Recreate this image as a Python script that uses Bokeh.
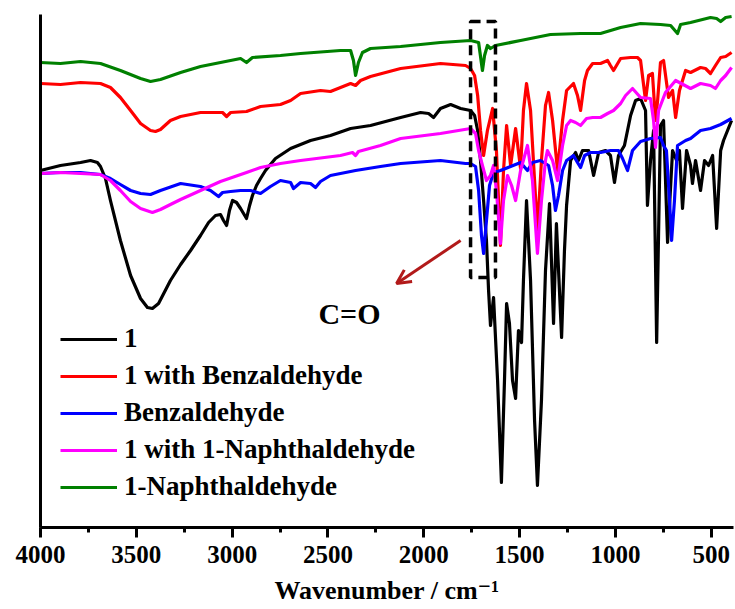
from bokeh.plotting import figure
from bokeh.models import (Range1d, SingleIntervalTicker, FixedTicker, Legend, LegendItem,
                          BoxAnnotation, Arrow, OpenHead, Label)
from bokeh.embed import file_html
from bokeh.resources import INLINE

# ---- data: wavenumber (cm^-1) and transmittance (a.u.) ----
wn_1 = [4000, 3896, 3791, 3739, 3703, 3687, 3661, 3635, 3583, 3530, 3478, 3442, 3416, 3384, 3322, 3269,
        3217, 3165, 3123, 3087, 3061, 3045, 3029, 3014, 2998, 2977, 2956, 2925, 2909, 2894, 2873, 2852,
        2826, 2774, 2695, 2591, 2487, 2382, 2278, 2121, 2017, 1975, 1949, 1913, 1860, 1808, 1756, 1735,
        1719, 1704, 1688, 1673, 1662, 1652, 1636, 1615, 1595, 1579, 1568, 1553, 1537, 1521, 1506, 1490,
        1480, 1464, 1443, 1422, 1407, 1386, 1365, 1344, 1323, 1308, 1281, 1266, 1255, 1234, 1208, 1193,
        1172, 1140, 1114, 1088, 1052, 1026, 1005, 984, 953, 921, 895, 869, 843, 833, 817, 801, 785, 765,
        749, 728, 702, 681, 666, 650, 629, 608, 598, 582, 556, 535, 514, 493, 472, 451, 436, 415, 394]
t_1 = [357, 362, 365, 367, 365, 361, 349, 327, 287, 252, 229, 220, 219, 224, 247, 263,
       277, 292, 305, 312, 313, 307, 302, 317, 327, 325, 319, 309, 322, 332, 342, 349,
       357, 369, 379, 387, 392, 399, 402, 410, 415, 414, 410, 419, 423, 419, 417, 412,
       397, 367, 327, 287, 237, 202, 230, 147, 45, 147, 224, 204, 147, 129, 197, 185,
       247, 327, 247, 107, 42, 127, 257, 324, 204, 304, 190, 277, 322, 367, 375, 367,
       377, 377, 352, 375, 377, 372, 345, 372, 382, 412, 427, 429, 417, 322, 367, 397, 185, 402,
       407, 285, 377, 367, 377, 319, 377, 362, 344, 367, 337, 367, 362, 372, 299, 377, 387, 397, 407]

wn_1b = [4000, 3896, 3791, 3687, 3635, 3583, 3530, 3478, 3426, 3400, 3374, 3322, 3269, 3165, 3050, 3029,
         3008, 2925, 2852, 2748, 2695, 2643, 2539, 2487, 2382, 2356, 2330, 2278, 2121, 1913, 1782, 1756,
         1735, 1719, 1704, 1688, 1668, 1641, 1621, 1600, 1584, 1568, 1547, 1521, 1495, 1480, 1464, 1443,
         1422, 1407, 1386, 1365, 1349, 1328, 1302, 1276, 1255, 1219, 1198, 1182, 1161, 1146, 1119, 1078,
         1041, 1026, 1010, 973, 921, 885, 869, 843, 827, 807, 791, 780, 765, 749, 723, 702, 686, 666,
         634, 608, 556, 530, 504, 478, 451, 425, 394]
t_1b = [444, 443, 445, 444, 440, 430, 417, 404, 397, 396, 398, 407, 411, 415, 415, 411,
        415, 416, 421, 423, 427, 434, 437, 436, 444, 442, 447, 451, 459, 464, 462, 459,
        452, 432, 397, 372, 397, 419, 377, 282, 357, 402, 362, 399, 359, 417, 444, 417,
        347, 297, 367, 422, 435, 407, 357, 407, 437, 444, 432, 417, 447, 457, 464, 464,
        467, 462, 457, 469, 470, 470, 467, 427, 452, 454, 407, 427, 465, 467, 430, 437, 410, 437,
        457, 455, 460, 459, 454, 462, 470, 471, 475]

wn_b = [4000, 3896, 3791, 3687, 3635, 3583, 3530, 3478, 3426, 3374, 3269, 3165, 3113, 3071, 3050, 3008,
        2956, 2904, 2852, 2800, 2748, 2695, 2680, 2643, 2591, 2565, 2539, 2487, 2356, 2226, 2121, 1913,
        1782, 1756, 1730, 1714, 1699, 1688, 1673, 1657, 1636, 1600, 1547, 1495, 1459, 1433, 1391, 1349,
        1328, 1313, 1297, 1276, 1255, 1219, 1198, 1182, 1161, 1130, 1078, 1026, 984, 963, 937, 911,
        869, 817, 765, 749, 734, 718, 707, 692, 676, 634, 608, 556, 504, 451, 394]
t_b = [354, 355, 355, 353, 349, 343, 337, 334, 333, 337, 344, 341, 337, 331, 335, 336,
       337, 337, 334, 341, 347, 345, 339, 345, 344, 340, 346, 352, 357, 361, 364, 367,
       364, 364, 361, 337, 292, 274, 307, 342, 355, 357, 361, 365, 357, 365, 367, 362,
       342, 317, 332, 357, 367, 372, 365, 360, 372, 375, 375, 377, 377, 369, 357, 377,
       386, 389, 390, 382, 377, 327, 287, 327, 382, 387, 389, 397, 399, 403, 409]

wn_1n = [4000, 3896, 3791, 3687, 3635, 3583, 3530, 3478, 3416, 3374, 3322, 3269, 3165, 3061, 2925, 2852,
         2748, 2643, 2435, 2372, 2356, 2341, 2226, 2121, 1913, 1756, 1730, 1714, 1694, 1673, 1652, 1636,
         1621, 1600, 1584, 1563, 1542, 1521, 1495, 1459, 1433, 1407, 1386, 1365, 1355, 1328, 1302, 1276,
         1255, 1234, 1208, 1182, 1151, 1119, 1078, 1041, 1010, 973, 947, 911, 869, 817, 801, 791, 775,
         739, 686, 608, 556, 504, 478, 451, 425, 394]
t_1n = [354, 355, 354, 353, 347, 337, 326, 319, 315, 318, 323, 328, 337, 346, 355, 360,
        364, 367, 372, 375, 372, 376, 382, 389, 394, 399, 394, 377, 362, 347, 352, 362,
        337, 284, 327, 352, 342, 327, 357, 382, 347, 274, 327, 367, 377, 367, 347, 382,
        402, 407, 405, 402, 409, 410, 410, 414, 417, 424, 432, 439, 430, 429, 407, 380, 417,
        435, 447, 439, 444, 442, 439, 447, 452, 460]

wn_n = [4000, 3896, 3791, 3687, 3583, 3478, 3426, 3374, 3269, 3165, 2956, 2925, 2894, 2748, 2643, 2435,
        2382, 2367, 2356, 2341, 2320, 2278, 2121, 1913, 1756, 1714, 1694, 1683, 1668, 1652, 1626, 1495,
        1339, 1182, 1078, 973, 869, 765, 712, 676, 660, 608, 504, 472, 451, 425, 394]
t_n = [465, 464, 466, 464, 457, 449, 446, 448, 455, 461, 469, 465, 470, 472, 474, 477,
       477, 467, 452, 465, 475, 479, 481, 485, 487, 485, 457, 472, 482, 479, 482, 487,
       493, 494, 494, 500, 504, 503, 502, 494, 503, 505, 510, 509, 506, 510, 511]

series_names = ["1", "1 with Benzaldehyde", "Benzaldehyde", "1 with 1-Naphthaldehyde", "1-Naphthaldehyde"]
series_colors = ["#000000", "#ff0000", "#0000ff", "#ff00ff", "#008000"]
x_title = "Wavenumber / cm\u207b\u00b9"

# ---- figure ----
FONT = "'Liberation Serif', 'Times New Roman', 'DejaVu Serif', serif"
p = figure(width=735, height=609, output_backend="svg", toolbar_location=None,
           x_range=Range1d(4000, 384), y_range=Range1d(0, 513),
           min_border_left=40, min_border_right=2, min_border_top=14, min_border_bottom=82)
p.outline_line_color = None
p.grid.visible = False
p.background_fill_color = "white"
p.border_fill_color = "white"

data = [(wn_1, t_1), (wn_1b, t_1b), (wn_b, t_b), (wn_1n, t_1n), (wn_n, t_n)]
renderers = []
for (xs, ys), c in zip(data, series_colors):
    r = p.line(xs, ys, line_color=c, line_width=3.2, line_join="round")
    renderers.append(r)

# x axis
p.xaxis.ticker = SingleIntervalTicker(interval=500, num_minor_ticks=2)
p.xaxis.axis_line_width = 3
p.xaxis.major_tick_line_width = 3
p.xaxis.minor_tick_line_width = 3
p.xaxis.major_tick_out = 10
p.xaxis.major_tick_in = 0
p.xaxis.minor_tick_out = 5
p.xaxis.minor_tick_in = 0
p.xaxis.major_label_text_font = FONT
p.xaxis.major_label_text_font_style = "bold"
p.xaxis.major_label_text_font_size = "25px"
p.xaxis.major_label_text_color = "black"
p.xaxis.major_label_text_line_height = 0.9
p.xaxis.major_label_standoff = 8
p.xaxis.axis_label = x_title
p.xaxis.axis_label_text_font = FONT
p.xaxis.axis_label_text_font_style = "bold"
p.xaxis.axis_label_text_font_size = "26px"
p.xaxis.axis_label_text_color = "black"
p.xaxis.axis_label_text_line_height = 0.9
p.xaxis.axis_label_standoff = 10

# y axis: line only
p.yaxis.ticker = FixedTicker(ticks=[])
p.yaxis.axis_line_width = 3
p.yaxis.major_label_text_font_size = "0px"

# dashed box around C=O band
box = BoxAnnotation(left=1626, right=1756, bottom=250, top=506, fill_alpha=0,
                    line_color="black", line_alpha=1.0, line_width=3.5, line_dash="10 6")
p.add_layout(box)

arrow = Arrow(end=OpenHead(size=14, line_color="#b21a1a", line_width=3),
              x_start=1808, y_start=287, x_end=2142, y_end=244,
              line_color="#b21a1a", line_width=3)
p.add_layout(arrow)

co = Label(x=2550, y=214, text="C=O", text_font=FONT, text_font_style="bold",
           text_font_size="30px", text_color="black", text_align="left", text_baseline="alphabetic")
p.add_layout(co)

legend = Legend(items=[LegendItem(label=n, renderers=[r]) for n, r in zip(series_names, renderers)],
                location=(20, 25), orientation="vertical",
                glyph_width=57, glyph_height=28, label_height=28, spacing=6,
                label_standoff=7, padding=0, margin=0,
                label_text_font=FONT, label_text_font_style="bold", label_text_font_size="27px",
                label_text_color="black", border_line_color=None, background_fill_alpha=0)
p.add_layout(legend)

open("out.html", "w").write(file_html(p, INLINE))
